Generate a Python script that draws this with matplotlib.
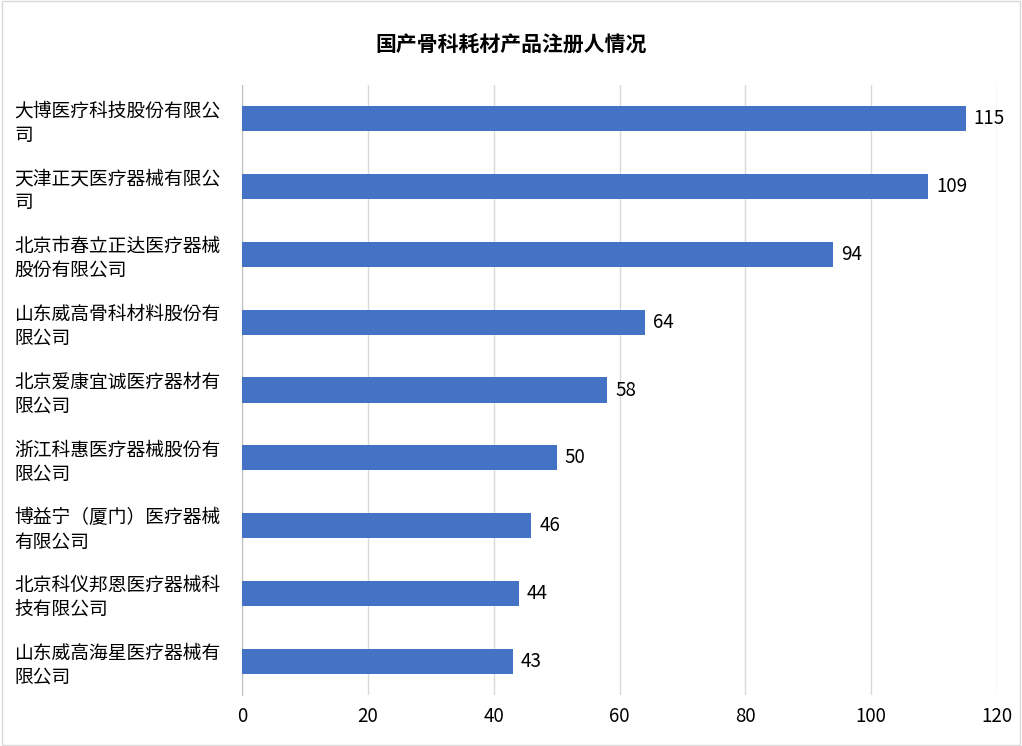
import matplotlib.pyplot as plt
from matplotlib.patches import Rectangle

plt.rcParams['font.family'] = ['Noto Sans CJK JP', 'Noto Sans CJK SC', 'DejaVu Sans']

# === data ===
companies = [
    "大博医疗科技股份有限公\n司",
    "天津正天医疗器械有限公\n司",
    "北京市春立正达医疗器械\n股份有限公司",
    "山东威高骨科材料股份有\n限公司",
    "北京爱康宜诚医疗器材有\n限公司",
    "浙江科惠医疗器械股份有\n限公司",
    "博益宁（厦门）医疗器械\n有限公司",
    "北京科仪邦恩医疗器械科\n技有限公司",
    "山东威高海星医疗器械有\n限公司",
]
counts = [115, 109, 94, 64, 58, 50, 46, 44, 43]
x_ticks = [0, 20, 40, 60, 80, 100, 120]

fig = plt.figure(figsize=(10.22, 7.46), dpi=100)
ax = fig.add_axes([242 / 1022, 1 - 695 / 746, (997 - 242) / 1022, (695 - 85) / 746])

y = list(range(len(companies)))[::-1]
ax.barh(y, counts, height=0.37, color='#4472C4', zorder=3)
for yi, v in zip(y, counts):
    ax.text(v + 1.3, yi, str(v), va='center', ha='left', fontsize=13.5)

ax.set_xlim(0, 120)
ax.set_ylim(-0.5, len(companies) - 0.5)
ax.set_xticks(x_ticks)
ax.tick_params(axis='x', length=0, labelsize=13.5, pad=8)
ax.set_yticks(y)
ax.set_yticklabels(companies, fontsize=13.5, ha='left', linespacing=1.2)
ax.tick_params(axis='y', length=0, pad=164)
ax.grid(axis='x', color='#D9D9D9', linewidth=1, zorder=0)
for s in ['top', 'right', 'bottom']:
    ax.spines[s].set_visible(False)
ax.spines['left'].set_color('#BFBFBF')

fig.text(0.5, 1 - 45 / 746, "国产骨科耗材产品注册人情况", ha='center', va='center',
         fontsize=15, fontweight='bold')
fig.patches.append(Rectangle((0.002, 0.002), 0.996, 0.996, transform=fig.transFigure,
                             fill=False, edgecolor='#D9D9D9', linewidth=1))

fig.savefig('out.png', dpi=100)
